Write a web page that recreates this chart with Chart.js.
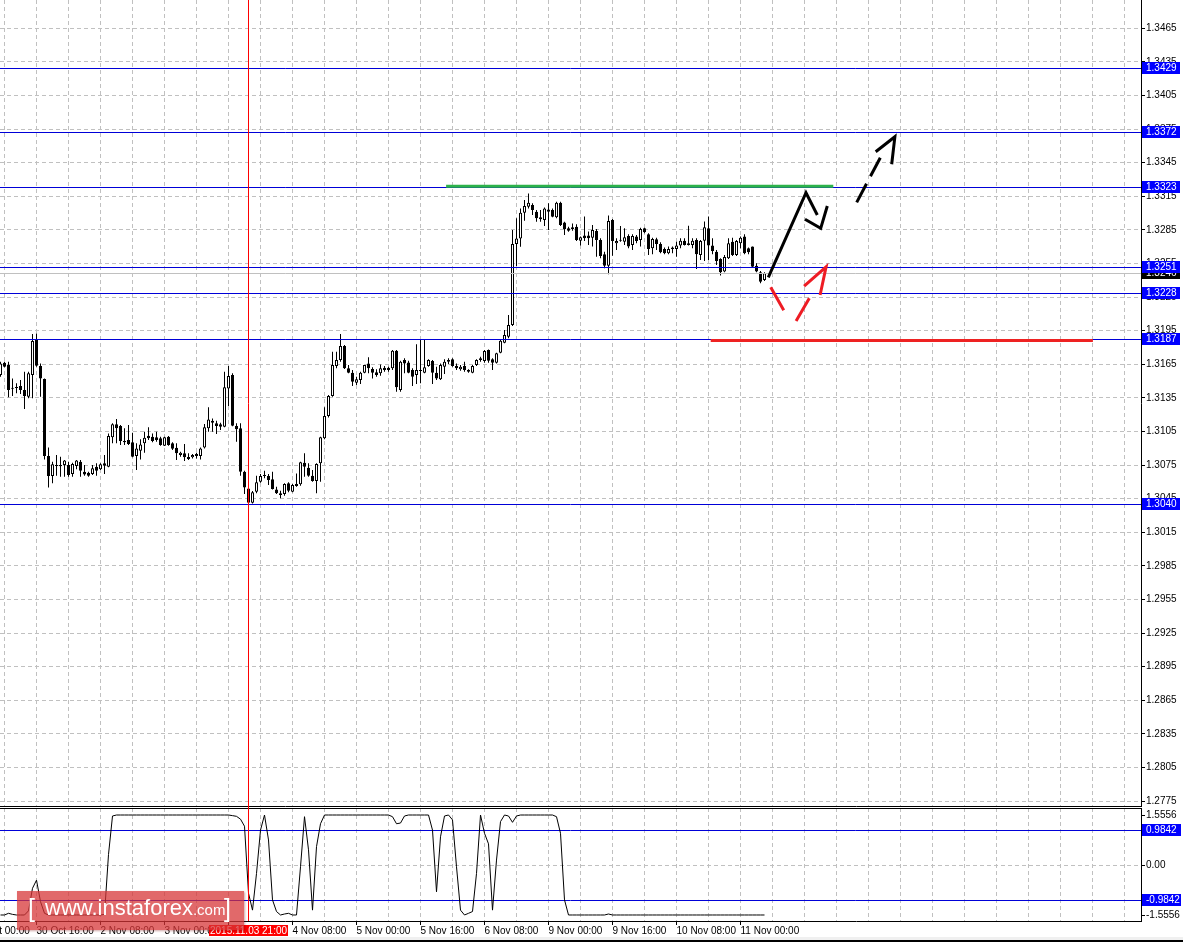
<!DOCTYPE html>
<html>
<head>
<meta charset="utf-8">
<script src="https://cdn.jsdelivr.net/npm/chart.js@4.4.1/dist/chart.umd.min.js"></script>
<style>
html, body { margin: 0; padding: 0; background: #fff; }
#wrap { position: relative; width: 1183px; height: 942px; overflow: hidden; background: #fff; }
#main { position: absolute; left: 0; top: 0; }
#sub { position: absolute; left: 0; top: 807px; }
#wm {
    position: absolute; left: 17px; top: 891px; width: 227px; height: 39px;
    background: rgba(214, 52, 54, 0.74);
    box-shadow: 1px 1px 2px rgba(120, 0, 0, 0.35);
    color: #fff; font-family: 'Liberation Sans', Arial, sans-serif;
    white-space: nowrap; line-height: 39px;
}
#wm .br { position: absolute; top: -2px; font-size: 25px; font-weight: normal; }
#wm .site { position: absolute; left: 28px; top: -3px; font-size: 22px; }
#wm .site small { font-size: 15px; }
#band { position: absolute; left: 0; top: 937px; width: 1183px; height: 3px; background: #f0f0f0; }
#edge { position: absolute; left: 0; top: 940px; width: 1183px; height: 2px; background: #000; }
</style>
</head>
<body>
<div id="wrap">
    <canvas id="main" width="1183" height="807"></canvas>
    <canvas id="sub" width="1183" height="135"></canvas>
    <div id="wm"><span class="br" style="left:11px">[</span><span class="site">www.instaforex<small>.com</small></span><span class="br" style="left:207px">]</span></div>
    <div id="band"></div>
    <div id="edge"></div>
</div>
<script>
/* ================= DATA (H1 bars, index 0 = 30 Oct 07:00) ================= */
const open = [
    1.31554, 1.31664, 1.31644, 1.31437, 1.31441, 1.31456, 1.31420, 1.31361, 1.31554, 1.31867,
    1.31635, 1.31519, 1.30831, 1.30653, 1.30742, 1.30751, 1.30751, 1.30751, 1.30670, 1.30742,
    1.30781, 1.30691, 1.30682, 1.30670, 1.30736, 1.30712, 1.30766, 1.30736, 1.30998, 1.31114,
    1.31099, 1.30965, 1.30974, 1.30953, 1.30831, 1.30879, 1.30944, 1.31013, 1.31004, 1.30998,
    1.30989, 1.30923, 1.31004, 1.30944, 1.30905, 1.30840, 1.30855, 1.30822, 1.30819, 1.30849,
    1.30831, 1.30908, 1.31078, 1.31147, 1.31123, 1.31114, 1.31093, 1.31435, 1.31554, 1.31099,
    1.31078, 1.30691, 1.30542, 1.30414, 1.30513, 1.30602, 1.30658, 1.30653, 1.30623, 1.30533,
    1.30498, 1.30492, 1.30587, 1.30513, 1.30563, 1.30578, 1.30772, 1.30727, 1.30655, 1.30608,
    1.30766, 1.30989, 1.31188, 1.31367, 1.31635, 1.31688, 1.31813, 1.31614, 1.31575, 1.31486,
    1.31510, 1.31575, 1.31658, 1.31608, 1.31578, 1.31569, 1.31620, 1.31620, 1.31614, 1.31771,
    1.31420, 1.31688, 1.31667, 1.31599, 1.31554, 1.31590, 1.31575, 1.31635, 1.31679, 1.31575,
    1.31516, 1.31629, 1.31688, 1.31694, 1.31635, 1.31605, 1.31635, 1.31599, 1.31575, 1.31644,
    1.31688, 1.31679, 1.31777, 1.31694, 1.31664, 1.31754, 1.31843, 1.31896, 1.32001, 1.32724,
    1.32774, 1.33004, 1.33057, 1.33072, 1.33013, 1.32962, 1.32938, 1.33033, 1.33027, 1.32962,
    1.33093, 1.32917, 1.32864, 1.32855, 1.32879, 1.32754, 1.32799, 1.32799, 1.32781, 1.32841,
    1.32760, 1.32632, 1.32531, 1.32939, 1.32730, 1.32754, 1.32745, 1.32796, 1.32716, 1.32790,
    1.32760, 1.32864, 1.32811, 1.32686, 1.32766, 1.32725, 1.32680, 1.32641, 1.32680, 1.32680,
    1.32710, 1.32754, 1.32730, 1.32716, 1.32760, 1.32626, 1.32754, 1.32864, 1.32710, 1.32656,
    1.32591, 1.32478, 1.32597, 1.32745, 1.32626, 1.32730, 1.32790, 1.32686, 1.32701, 1.32531,
    1.32472, 1.32403
];
const high = [
    1.31673, 1.31673, 1.31673, 1.31524, 1.31480, 1.31510, 1.31584, 1.31584, 1.31920, 1.31926,
    1.31658, 1.31524, 1.30908, 1.30781, 1.30840, 1.30825, 1.30795, 1.30781, 1.30772, 1.30795,
    1.30795, 1.30751, 1.30691, 1.30751, 1.30766, 1.30766, 1.30840, 1.31033, 1.31123, 1.31161,
    1.31108, 1.31078, 1.31108, 1.31039, 1.30944, 1.30980, 1.31048, 1.31087, 1.31033, 1.31048,
    1.31004, 1.31004, 1.31010, 1.30953, 1.30944, 1.30870, 1.30938, 1.30855, 1.30849, 1.30861,
    1.30908, 1.31117, 1.31266, 1.31167, 1.31147, 1.31129, 1.31584, 1.31635, 1.31569, 1.31123,
    1.31123, 1.30700, 1.30551, 1.30519, 1.30655, 1.30670, 1.30700, 1.30670, 1.30691, 1.30557,
    1.30522, 1.30587, 1.30596, 1.30581, 1.30676, 1.30781, 1.30855, 1.30766, 1.30706, 1.30766,
    1.31004, 1.31266, 1.31376, 1.31763, 1.31763, 1.31920, 1.31822, 1.31644, 1.31599, 1.31539,
    1.31584, 1.31644, 1.31712, 1.31623, 1.31605, 1.31649, 1.31635, 1.31629, 1.31777, 1.31777,
    1.31682, 1.31703, 1.31682, 1.31614, 1.31828, 1.31867, 1.31867, 1.31694, 1.31688, 1.31629,
    1.31658, 1.31694, 1.31703, 1.31703, 1.31658, 1.31644, 1.31673, 1.31605, 1.31644, 1.31694,
    1.31718, 1.31777, 1.31783, 1.31703, 1.31754, 1.31867, 1.31956, 1.32090, 1.32849, 1.32953,
    1.33042, 1.33117, 1.33176, 1.33087, 1.33027, 1.33027, 1.33051, 1.33087, 1.33042, 1.33102,
    1.33102, 1.32923, 1.32879, 1.32908, 1.32900, 1.32790, 1.32969, 1.32835, 1.32894, 1.32858,
    1.32775, 1.32656, 1.32978, 1.32948, 1.32775, 1.32885, 1.32864, 1.32811, 1.32811, 1.32805,
    1.32870, 1.32870, 1.32820, 1.32781, 1.32781, 1.32739, 1.32692, 1.32701, 1.32701, 1.32745,
    1.32775, 1.32775, 1.32888, 1.32775, 1.32775, 1.32760, 1.32924, 1.32969, 1.32775, 1.32671,
    1.32597, 1.32626, 1.32775, 1.32781, 1.32760, 1.32790, 1.32811, 1.32692, 1.32701, 1.32552,
    1.32484, 1.32472
];
const low = [
    1.31539, 1.31623, 1.31355, 1.31367, 1.31391, 1.31385, 1.31251, 1.31346, 1.31346, 1.31629,
    1.31361, 1.30801, 1.30551, 1.30587, 1.30655, 1.30647, 1.30647, 1.30647, 1.30647, 1.30712,
    1.30647, 1.30655, 1.30647, 1.30661, 1.30655, 1.30706, 1.30670, 1.30730, 1.30944, 1.30944,
    1.30929, 1.30929, 1.30929, 1.30819, 1.30706, 1.30801, 1.30861, 1.30974, 1.30953, 1.30959,
    1.30923, 1.30920, 1.30923, 1.30885, 1.30795, 1.30825, 1.30786, 1.30795, 1.30810, 1.30810,
    1.30801, 1.30899, 1.31048, 1.31048, 1.31027, 1.31063, 1.31087, 1.31277, 1.31096, 1.30959,
    1.30655, 1.30492, 1.30408, 1.30408, 1.30498, 1.30593, 1.30632, 1.30572, 1.30533, 1.30492,
    1.30453, 1.30477, 1.30507, 1.30507, 1.30557, 1.30566, 1.30647, 1.30647, 1.30602, 1.30498,
    1.30602, 1.30980, 1.31176, 1.31361, 1.31614, 1.31673, 1.31608, 1.31569, 1.31456, 1.31465,
    1.31474, 1.31569, 1.31569, 1.31524, 1.31539, 1.31548, 1.31584, 1.31584, 1.31599, 1.31405,
    1.31405, 1.31569, 1.31569, 1.31456, 1.31474, 1.31480, 1.31569, 1.31629, 1.31474, 1.31510,
    1.31510, 1.31563, 1.31652, 1.31629, 1.31599, 1.31593, 1.31584, 1.31575, 1.31569, 1.31635,
    1.31673, 1.31664, 1.31664, 1.31599, 1.31658, 1.31748, 1.31837, 1.31882, 1.31992, 1.32527,
    1.32700, 1.32932, 1.33042, 1.32983, 1.32923, 1.32923, 1.32885, 1.32849, 1.32962, 1.32953,
    1.32885, 1.32804, 1.32834, 1.32843, 1.32751, 1.32710, 1.32751, 1.32716, 1.32701, 1.32611,
    1.32597, 1.32507, 1.32454, 1.32620, 1.32671, 1.32745, 1.32716, 1.32686, 1.32671, 1.32730,
    1.32701, 1.32820, 1.32626, 1.32632, 1.32671, 1.32641, 1.32632, 1.32632, 1.32641, 1.32611,
    1.32686, 1.32710, 1.32710, 1.32686, 1.32501, 1.32582, 1.32573, 1.32582, 1.32632, 1.32537,
    1.32442, 1.32472, 1.32591, 1.32617, 1.32617, 1.32686, 1.32632, 1.32632, 1.32513, 1.32472,
    1.32373, 1.32394
];
const close = [
    1.31658, 1.31629, 1.31420, 1.31432, 1.31438, 1.31420, 1.31367, 1.31569, 1.31858, 1.31638,
    1.31524, 1.30831, 1.30653, 1.30757, 1.30748, 1.30739, 1.30790, 1.30661, 1.30760, 1.30790,
    1.30700, 1.30667, 1.30655, 1.30721, 1.30700, 1.30757, 1.30745, 1.31010, 1.31114, 1.31078,
    1.30965, 1.30953, 1.30938, 1.30825, 1.30899, 1.30935, 1.30995, 1.30989, 1.30965, 1.30974,
    1.30929, 1.30998, 1.30929, 1.30897, 1.30855, 1.30861, 1.30819, 1.30804, 1.30840, 1.30831,
    1.30899, 1.31087, 1.31158, 1.31129, 1.31099, 1.31093, 1.31444, 1.31545, 1.31102, 1.31069,
    1.30691, 1.30551, 1.30414, 1.30507, 1.30596, 1.30653, 1.30653, 1.30617, 1.30536, 1.30498,
    1.30483, 1.30581, 1.30522, 1.30572, 1.30581, 1.30775, 1.30736, 1.30655, 1.30608, 1.30760,
    1.30998, 1.31188, 1.31367, 1.31644, 1.31688, 1.31813, 1.31614, 1.31575, 1.31495, 1.31516,
    1.31575, 1.31644, 1.31614, 1.31575, 1.31554, 1.31614, 1.31599, 1.31599, 1.31771, 1.31444,
    1.31673, 1.31658, 1.31575, 1.31539, 1.31599, 1.31596, 1.31623, 1.31688, 1.31575, 1.31524,
    1.31644, 1.31673, 1.31673, 1.31635, 1.31614, 1.31629, 1.31599, 1.31584, 1.31635, 1.31688,
    1.31703, 1.31768, 1.31682, 1.31664, 1.31748, 1.31861, 1.31911, 1.32001, 1.32724, 1.32774,
    1.33004, 1.33063, 1.33093, 1.33027, 1.32953, 1.32944, 1.33042, 1.33013, 1.32968, 1.33093,
    1.32894, 1.32855, 1.32843, 1.32873, 1.32760, 1.32784, 1.32775, 1.32775, 1.32849, 1.32760,
    1.32617, 1.32531, 1.32930, 1.32751, 1.32751, 1.32757, 1.32784, 1.32701, 1.32796, 1.32751,
    1.32858, 1.32829, 1.32680, 1.32769, 1.32725, 1.32650, 1.32641, 1.32680, 1.32692, 1.32710,
    1.32754, 1.32716, 1.32716, 1.32754, 1.32632, 1.32751, 1.32873, 1.32710, 1.32662, 1.32573,
    1.32472, 1.32608, 1.32730, 1.32626, 1.32751, 1.32781, 1.32641, 1.32650, 1.32522, 1.32478,
    1.32388, 1.32463
];
/* lower window oscillator, one value per bar */
const fisher = [
    -1.418, -1.418, -1.37, -1.40, -1.418, -1.418, -1.418, -1.30, -0.66, -0.43,
    -1.04, -1.37, -1.418, -1.418, -1.418, -1.418, -1.418, -1.418, -1.418, -1.418,
    -1.418, -1.418, -1.418, -1.418, -1.418, -1.418, -1.40, 0.30, 1.39, 1.418,
    1.418, 1.418, 1.418, 1.418, 1.418, 1.418, 1.418, 1.418, 1.418, 1.418,
    1.418, 1.418, 1.418, 1.418, 1.418, 1.418, 1.418, 1.418, 1.418, 1.418,
    1.418, 1.418, 1.418, 1.418, 1.418, 1.418, 1.418, 1.418, 1.40, 1.38,
    1.30, 1.10, -0.80, -1.28, -0.24, 0.99, 1.418, 0.71, -0.99, -1.32,
    -1.418, -1.39, -1.37, -1.418, -1.418, -0.05, 1.37, 0.43, -1.28, 0.52,
    1.17, 1.418, 1.418, 1.418, 1.418, 1.418, 1.418, 1.418, 1.418, 1.418,
    1.418, 1.418, 1.418, 1.418, 1.418, 1.418, 1.418, 1.418, 1.37, 1.17,
    1.19, 1.39, 1.418, 1.418, 1.418, 1.418, 1.418, 1.418, 0.99, -0.76,
    0.80, 1.39, 1.418, 1.28, -0.05, -1.28, -1.418, -1.37, -1.32, -0.24,
    1.418, 0.90, 0.60, -1.28, 0.14, 1.23, 1.418, 1.39, 1.21, 1.39,
    1.418, 1.418, 1.418, 1.418, 1.418, 1.418, 1.418, 1.418, 1.418, 1.37,
    0.90, -0.99, -1.418, -1.418, -1.418, -1.418, -1.418, -1.418, -1.418, -1.418,
    -1.418, -1.418, -1.39, -1.418, -1.418, -1.418, -1.418, -1.418, -1.418, -1.418,
    -1.418, -1.418, -1.418, -1.418, -1.418, -1.418, -1.418, -1.418, -1.418, -1.418,
    -1.418, -1.418, -1.418, -1.418, -1.418, -1.418, -1.418, -1.418, -1.418, -1.418,
    -1.418, -1.418, -1.418, -1.418, -1.418, -1.418, -1.418, -1.418, -1.418, -1.418,
    -1.418, -1.418
];

const priceTicks = [1.2775, 1.2805, 1.2835, 1.2865, 1.2895, 1.2925, 1.2955, 1.2985, 1.3015, 1.3045,
    1.3075, 1.3105, 1.3135, 1.3165, 1.3195, 1.3225, 1.3255, 1.3285, 1.3315, 1.3345,
    1.3375, 1.3405, 1.3435, 1.3465];
const levels = [1.3429, 1.3372, 1.3323, 1.3251, 1.3228, 1.3187, 1.3040];
const bidPrice = 1.3246;
const subLevels = [0.9842, -0.9842];
const subRangeLabels = [1.5556, -1.5556];

const timeLabels = ["30 Oct 00:00", "30 Oct 16:00", "2 Nov 08:00", "3 Nov 00:00", "3 Nov 16:00",
    "4 Nov 08:00", "5 Nov 00:00", "5 Nov 16:00", "6 Nov 08:00", "9 Nov 00:00",
    "9 Nov 16:00", "10 Nov 08:00", "11 Nov 00:00"];
const firstLabelBar = -7;   // bar index of the first time label
const labelEvery = 16;
const gridEvery = 8;
const cursorBar = 62;
const cursorLabel = "2015.11.03 21:00";

/* hand drawn objects: [bar index, price] */
const greenLine = [[111.4, 1.3324], [208.2, 1.3324]];
const redLine = [[177.55, 1.31863], [273.1, 1.31863]];
const blackPath = [[191.95, 1.32427], [201.375, 1.33182], [204.2, 1.32983]];
const blackHead = [[201.125, 1.32945], [205.05, 1.32864], [206.7, 1.33063]];
const blackDashPath = [[214.05, 1.33096], [219.95, 1.33495]];
const blackDashHead = [[218.8, 1.33548], [223.6, 1.33682], [222.8, 1.33436]];
const redDashPath = [[192.55, 1.32338], [198.1, 1.31987], [202.2, 1.32239]];
const redDashHead = [[200.9, 1.32349], [206.4, 1.32521], [204.9, 1.32269]];

/* ================= SCALE SETUP ================= */
const xMin = -0.125, xMax = 285.125;
const priceMin = 1.277062, priceMax = 1.349027;
const subMin = -1.5882, subMax = 1.6166;

const FONT = "'Liberation Sans', Arial, sans-serif";
const GRID = "#c0c0c0";
const DASH = [4, 3];
const LEVEL_BLUE = "#0000d8";
const BOX_BLUE = "#0000ff";

function resetPadding(s) {
    s.paddingLeft = 0; s.paddingRight = 0; s.paddingTop = 0; s.paddingBottom = 0;
}

function timeTicks(scale) {
    const t = [];
    for (let k = firstLabelBar; k <= xMax; k += gridEvery) t.push({ value: k });
    scale.ticks = t;
}

function timeLabel(value) {
    const idx = (value - firstLabelBar) / labelEvery;
    return Number.isInteger(idx) && idx < timeLabels.length ? timeLabels[idx] : "";
}

const toPts = arr => arr.map(p => ({ x: p[0], y: p[1] }));

function lineSet(label, pts, color, width, dash) {
    return {
        type: "line", label: label, data: toPts(pts),
        borderColor: color, borderWidth: width, borderDash: dash || [],
        pointRadius: 0, fill: false, tension: 0, order: -1,
        borderCapStyle: "butt", borderJoinStyle: "miter"
    };
}

function box(ctx, x, yMid, w, color, text) {
    ctx.fillStyle = color;
    ctx.fillRect(x, yMid - 6, w, 12);
    ctx.fillStyle = "#fff";
    ctx.fillText(text, x + 4, yMid + 0.5);
}

/* ================= MAIN WINDOW ================= */
const mainDecor = {
    id: "mainDecor",
    afterDatasetDraw(chart, args) {
        if (chart.data.datasets[args.index].label !== "body") return;
        const { ctx, chartArea: a, scales: { y } } = chart;
        ctx.save();
        ctx.lineWidth = 1;
        ctx.strokeStyle = "#c0c0c0";
        const by = Math.floor(y.getPixelForValue(bidPrice)) + 0.5;
        ctx.beginPath(); ctx.moveTo(a.left, by); ctx.lineTo(a.right, by); ctx.stroke();
        ctx.strokeStyle = LEVEL_BLUE;
        levels.forEach(v => {
            const py = Math.floor(y.getPixelForValue(v)) + 0.5;
            ctx.beginPath(); ctx.moveTo(a.left, py); ctx.lineTo(a.right, py); ctx.stroke();
        });
        ctx.restore();
    },
    afterDatasetsDraw(chart) {
        const { ctx, scales: { x } } = chart;
        const px = Math.floor(x.getPixelForValue(cursorBar)) + 0.5;
        ctx.save();
        ctx.strokeStyle = "#ff0000";
        ctx.lineWidth = 1;
        ctx.beginPath(); ctx.moveTo(px, 0); ctx.lineTo(px, chart.height); ctx.stroke();
        ctx.restore();
    },
    afterDraw(chart) {
        const { ctx, chartArea: a, scales: { y } } = chart;
        ctx.save();
        ctx.font = "10px " + FONT;
        ctx.textBaseline = "middle";
        ctx.textAlign = "left";
        box(ctx, a.right + 1, Math.floor(y.getPixelForValue(bidPrice)), 38, "#000", bidPrice.toFixed(4));
        levels.forEach(v => {
            box(ctx, a.right + 1, Math.floor(y.getPixelForValue(v)), 38, BOX_BLUE, v.toFixed(4));
        });
        ctx.restore();
    }
};

new Chart(document.getElementById("main"), {
    type: "bar",
    data: {
        datasets: [
            lineSet("green", greenLine, "#2db34a", 3),
            lineSet("red", redLine, "#ee2222", 3),
            lineSet("up", blackPath, "#000", 3),
            lineSet("upHead", blackHead, "#000", 3),
            lineSet("next", blackDashPath, "#000", 3, [21, 8.5]),
            lineSet("nextHead", blackDashHead, "#000", 3),
            lineSet("alt", redDashPath, "#ee1c24", 3, [26.5, 25]),
            lineSet("altHead", redDashHead, "#ee1c24", 3),
            {
                label: "body",
                data: open.map((o, i) => ({ x: i, y: [o, close[i]] })),
                backgroundColor: open.map((o, i) => close[i] >= o ? "#ffffff" : "#000000"),
                borderColor: "#000", borderWidth: 1, borderSkipped: false,
                barThickness: 3, grouped: false, inflateAmount: 0, minBarLength: 1, order: 0
            },
            {
                label: "wick",
                data: low.map((l, i) => ({ x: i, y: [l, high[i]] })),
                backgroundColor: "#000", borderWidth: 0,
                barThickness: 1, grouped: false, inflateAmount: 0, order: 1
            }
        ]
    },
    options: {
        responsive: false, animation: false, devicePixelRatio: 1, events: [],
        layout: { padding: { left: 0, right: 0, top: 0, bottom: 1 } },
        plugins: { legend: { display: false }, tooltip: { enabled: false } },
        scales: {
            x: {
                type: "linear", min: xMin, max: xMax, offset: false,
                afterBuildTicks: timeTicks,
                afterFit(s) { resetPadding(s); s.height = 0; },
                ticks: { display: false },
                grid: { color: GRID, borderDash: DASH, drawTicks: false, offset: false },
                border: { display: true, color: "#000", width: 1, dash: DASH }
            },
            y: {
                type: "linear", position: "right", min: priceMin, max: priceMax,
                afterBuildTicks(s) { s.ticks = priceTicks.map(v => ({ value: v })); },
                afterFit(s) { resetPadding(s); s.width = 42; },
                ticks: {
                    padding: 1, color: "#000", autoSkip: false,
                    font: { family: FONT, size: 10 },
                    callback: v => v.toFixed(4)
                },
                grid: {
                    color: GRID, borderDash: DASH, offset: false,
                    tickLength: 4, tickColor: "#000", tickWidth: 1, tickBorderDash: []
                },
                border: { display: true, color: "#000", width: 1, dash: DASH }
            }
        }
    },
    plugins: [mainDecor]
});

/* ================= INDICATOR WINDOW ================= */
const subDecor = {
    id: "subDecor",
    beforeDatasetsDraw(chart) {
        const { ctx, chartArea: a, scales: { y } } = chart;
        ctx.save();
        ctx.strokeStyle = LEVEL_BLUE;
        ctx.lineWidth = 1;
        subLevels.forEach(v => {
            const py = Math.round(y.getPixelForValue(v)) + 0.5;
            ctx.beginPath(); ctx.moveTo(a.left, py); ctx.lineTo(a.right, py); ctx.stroke();
        });
        ctx.restore();
    },
    afterDatasetsDraw(chart) {
        const { ctx, chartArea: a, scales: { x } } = chart;
        const px = Math.floor(x.getPixelForValue(cursorBar)) + 0.5;
        ctx.save();
        ctx.fillStyle = "#000";
        ctx.fillRect(0, a.top, a.right + 1, 1);
        ctx.strokeStyle = "#ff0000";
        ctx.lineWidth = 1;
        ctx.beginPath(); ctx.moveTo(px, 0); ctx.lineTo(px, a.bottom); ctx.stroke();
        ctx.restore();
    },
    afterDraw(chart) {
        const { ctx, chartArea: a, scales: { x, y } } = chart;
        ctx.save();
        ctx.font = "10px " + FONT;
        ctx.textBaseline = "middle";
        ctx.textAlign = "left";
        subLevels.forEach(v => {
            box(ctx, a.right + 1, Math.round(y.getPixelForValue(v)), 39, BOX_BLUE, v.toFixed(4));
        });
        subRangeLabels.forEach(v => {
            let py = y.getPixelForValue(v);
            py = v > 0 ? Math.max(py, a.top + 7) : Math.min(py, a.bottom - 6);
            py = Math.round(py);
            ctx.fillStyle = "#000";
            ctx.fillRect(a.right + 1, py, 3, 1);
            ctx.fillText(v.toFixed(4), a.right + 5, py + 0.5);
        });
        const cx = Math.floor(x.getPixelForValue(cursorBar)) + 0.5;
        ctx.fillStyle = "#ff0000";
        ctx.fillRect(cx - 39.5, a.bottom + 4, 79, 11);
        ctx.fillStyle = "#fff";
        ctx.textAlign = "center";
        ctx.fillText(cursorLabel, cx, a.bottom + 10);
        ctx.restore();
    }
};

new Chart(document.getElementById("sub"), {
    type: "line",
    data: {
        datasets: [{
            label: "fisher",
            data: fisher.map((v, i) => ({ x: i, y: v })),
            borderColor: "#000", borderWidth: 1, pointRadius: 0, fill: false, tension: 0
        }]
    },
    options: {
        responsive: false, animation: false, devicePixelRatio: 1, events: [],
        layout: { padding: { left: 0, right: 0, top: 1, bottom: 0 } },
        plugins: { legend: { display: false }, tooltip: { enabled: false } },
        scales: {
            x: {
                type: "linear", min: xMin, max: xMax, offset: false,
                afterBuildTicks: timeTicks,
                afterFit(s) { resetPadding(s); s.height = 21; },
                ticks: {
                    autoSkip: false, maxRotation: 0, minRotation: 0, align: "start",
                    padding: 0, color: "#000", font: { family: FONT, size: 10 },
                    callback: v => timeLabel(v)
                },
                grid: {
                    color: GRID, borderDash: DASH, offset: false, tickLength: 4,
                    tickColor: c => (c.tick && c.tick.label ? "#000" : "rgba(0,0,0,0)"),
                    tickWidth: 1, tickBorderDash: []
                },
                border: { display: true, color: "#000", width: 1, dash: DASH }
            },
            y: {
                type: "linear", position: "right", min: subMin, max: subMax,
                afterBuildTicks(s) { s.ticks = [{ value: 0 }]; },
                afterFit(s) { resetPadding(s); s.width = 42; },
                ticks: {
                    padding: 1, color: "#000", font: { family: FONT, size: 10 },
                    callback: v => v.toFixed(2)
                },
                grid: {
                    color: GRID, borderDash: DASH, offset: false,
                    tickLength: 4, tickColor: "#000", tickWidth: 1, tickBorderDash: []
                },
                border: { display: true, color: "#000", width: 1, dash: DASH }
            }
        }
    },
    plugins: [subDecor]
});
</script>
</body>
</html>
